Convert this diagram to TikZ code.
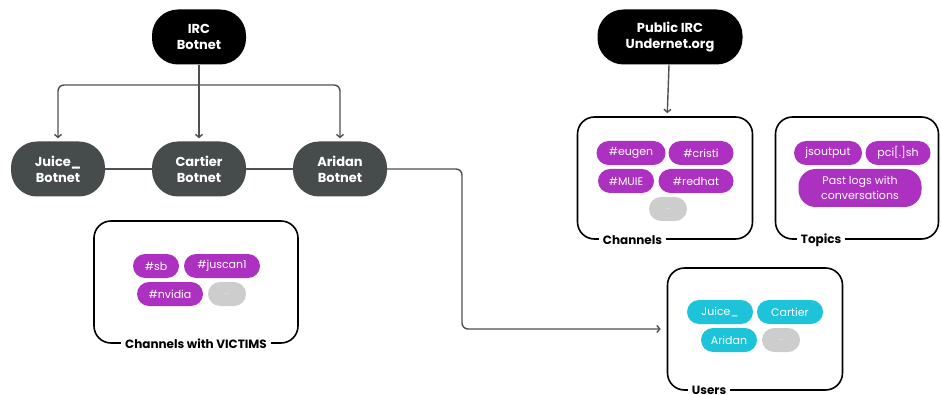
\documentclass[tikz,border=0pt]{standalone}
\usepackage{fontspec}
\setmainfont{Poppins}
\usetikzlibrary{arrows.meta,positioning}
\definecolor{tagpurple}{HTML}{AD31C1}
\definecolor{tagcyan}{HTML}{1DC3D9}
\definecolor{taggray}{HTML}{CDCDCD}
\definecolor{botgray}{HTML}{464B4B}
\definecolor{linegray}{HTML}{505050}

\tikzset{
  hub/.style={fill=black, text=white, rounded corners=26pt, minimum width=94pt,
    minimum height=55pt, align=center, font=\fontsize{13}{16}\selectfont\bfseries},
  bot/.style={hub, fill=botgray},
  group/.style={draw=black, line width=1.6pt, rounded corners=17pt},
  grouplabel/.style={fill=white, inner xsep=4pt, inner ysep=1pt,
    font=\fontsize{12}{14}\selectfont\bfseries},
  tag/.style={fill=tagpurple, text=white, rounded corners=12pt, minimum height=24pt,
    inner xsep=2pt, align=center, font=\fontsize{11}{14}\selectfont},
  user/.style={tag, fill=tagcyan},
  more/.style={tag, fill=taggray, minimum width=38pt, font=\fontsize{6}{8}\selectfont},
  conn/.style={draw=linegray, line width=1.4pt, rounded corners=6pt},
  tip/.style={-{Straight Barb[length=3pt,width=7pt]}, shorten >=3pt}
}

\begin{document}
\begin{tikzpicture}[x=1pt,y=-1pt]
  \useasboundingbox (0,0) rectangle (941,395);

  % botnet side
  \node[hub] (irc) at (199,37) {IRC\\Botnet};
  \node[bot] (juice) at (58,169) {Juice\_\\Botnet};
  \node[bot] (cartier) at (199,169) {Cartier\\Botnet};
  \node[bot] (aridan) at (340,169) {Aridan\\Botnet};
  \coordinate (split) at (199,85);
  \coordinate (turn) at (462,169);

  \draw[conn,tip] (irc) -- (cartier);
  \draw[conn,tip] (split) -| (juice);
  \draw[conn,tip] (split) -| (aridan);
  \draw[conn] (juice) -- (cartier);
  \draw[conn] (cartier) -- (aridan);

  \node[group, minimum width=204pt, minimum height=122pt] (victims) at (196,282) {};
  \node[grouplabel] at (victims.south) {Channels with VICTIMS};
  \node[tag, minimum width=46pt] (sb) at (156,266) {\#sb};
  \node[tag, minimum width=76pt] (juscan) at (222,266) {\#juscan1};
  \node[tag, minimum width=66pt] (nvidia) at (170,294) {\#nvidia};
  \node[more] (vmore) at (227,294) {...};

  % public irc side
  \node[hub, minimum width=145pt] (public) at (670,37) {Public IRC\\Undernet.org};

  \node[group, minimum width=175pt, minimum height=122pt] (channels) at (665,178) {};
  \node[grouplabel, anchor=west] at ([xshift=22pt]channels.south west) {Channels};
  \node[tag, minimum width=69pt] (eugen) at (631,153) {\#eugen};
  \node[tag, minimum width=65pt] (cristi) at (701,153) {\#cristi};
  \node[tag, minimum width=56pt] (muie) at (626,181) {\#MUIE};
  \node[tag, minimum width=75pt] (redhat) at (696,181) {\#redhat};
  \node[more] (cmore) at (668,209) {...};

  \node[group, minimum width=163pt, minimum height=122pt] (topics) at (857,178) {};
  \node[grouplabel, anchor=west] at ([xshift=22pt]topics.south west) {Topics};
  \node[tag, minimum width=68pt] (jsoutput) at (828,153) {jsoutput};
  \node[tag, minimum width=65pt] (pci) at (898,153) {pci[.]sh};
  \node[tag, minimum width=123pt, minimum height=38pt, rounded corners=17pt,
    font=\fontsize{11}{15}\selectfont] (logs) at (860,188) {Past logs with\\conversations};

  \node[group, minimum width=175pt, minimum height=122pt] (users) at (755,329) {};
  \node[grouplabel, anchor=west] at ([xshift=21pt]users.south west) {Users};
  \node[user, minimum width=66pt] (ujuice) at (720,312) {Juice\_};
  \node[user, minimum width=66pt] (ucartier) at (790,312) {Cartier};
  \node[user, minimum width=56pt] (uaridan) at (729,340) {Aridan};
  \node[more] (umore) at (781,340) {...};

  \draw[conn,tip] (public) -- (channels);
  \draw[conn,tip,shorten >=6pt] (aridan) -- (turn) |- (users.west);
\end{tikzpicture}
\end{document}
